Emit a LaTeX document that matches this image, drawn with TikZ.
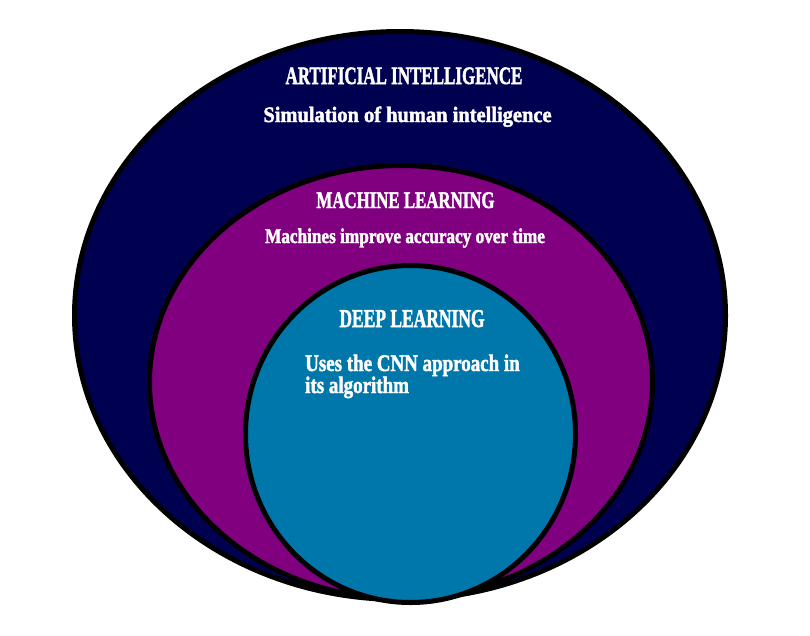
\documentclass[tikz,border=0pt]{standalone}
\usepackage{fontspec}
\setmainfont{Liberation Serif}[BoldFeatures={FakeBold=2}]
\usepackage{graphicx}
\definecolor{aiblue}{RGB}{0,0,80}
\definecolor{mlpurple}{RGB}{128,0,128}
\definecolor{dlteal}{RGB}{0,119,170}
\newcommand{\sx}[2]{\scalebox{#1}[1]{#2}}
\tikzset{
  ring/.style={draw=black, line width=5pt},
  lbl/.style={text=white, inner sep=0pt, anchor=base, font=\bfseries},
}
\begin{document}
\begin{tikzpicture}[x=1pt,y=-1pt]
\useasboundingbox (0,0) rectangle (810,635);
\fill[white] (0,0) rectangle (810,635);
\draw[ring, fill=aiblue] (400,315.5) ellipse [x radius=325.5, y radius=284];
\draw[ring, fill=mlpurple] (401,382) ellipse [x radius=251.5, y radius=216.5];
\draw[ring, fill=dlteal] (410.5,434) ellipse [x radius=165, y radius=168.5];
\node[lbl, font=\fontsize{25}{28}\selectfont\bfseries] (aih) at (404,84) {\sx{0.68}{ARTIFICIAL INTELLIGENCE}};
\node[lbl, font=\fontsize{22}{26}\selectfont\bfseries] (ais) at (407.5,122) {\sx{0.93}{Simulation of human intelligence}};
\node[lbl, font=\fontsize{23.7}{28}\selectfont\bfseries] (mlh) at (405.5,208) {\sx{0.71}{MACHINE LEARNING}};
\node[lbl, font=\fontsize{21}{25}\selectfont\bfseries] (mls) at (405,243) {\sx{0.82}{Machines improve accuracy over time}};
\node[lbl, font=\fontsize{25.7}{28}\selectfont\bfseries] (dlh) at (412,327) {\sx{0.68}{DEEP LEARNING}};
\node[lbl, anchor=base west, font=\fontsize{23.7}{28}\selectfont\bfseries] (dls1) at (305,371) {\sx{0.80}{Uses the CNN approach in}};
\node[lbl, anchor=base west, font=\fontsize{23.7}{28}\selectfont\bfseries] (dls2) at (305,393) {\sx{0.80}{its algorithm}};
\end{tikzpicture}
\end{document}
